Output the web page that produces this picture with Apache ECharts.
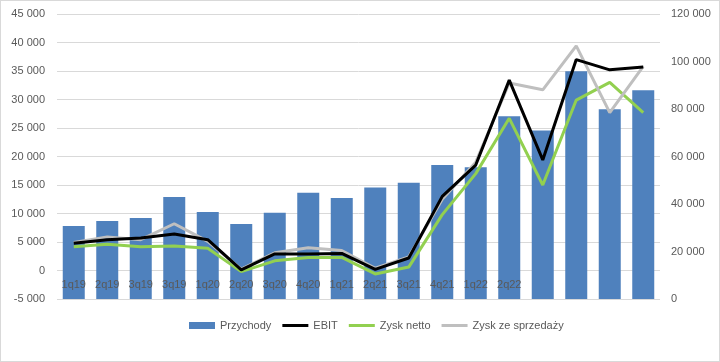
<!DOCTYPE html>
<html>
<head>
<meta charset="utf-8">
<script src="https://cdn.jsdelivr.net/npm/echarts@6/dist/echarts.min.js"></script>
<style>
html,body{margin:0;padding:0;background:#fff;}
#c{width:720px;height:362px;box-sizing:border-box;border:1px solid #d9d9d9;}
</style>
</head>
<body>
<div id="c"></div>
<script>
var categories = ['1q19','2q19','3q19','3q19','1q20','2q20','3q20','4q20','1q21','2q21','3q21','4q21','1q22','2q22','','','',''];
var przychody = [30700, 32800, 34100, 43000, 36600, 31600, 36300, 44700, 42500, 46900, 49000, 56400, 55500, 76900, 71000, 95900, 79900, 87900];
var ebit = [4800, 5400, 5700, 6400, 5400, 100, 2900, 2900, 3000, 200, 2200, 13000, 18500, 33400, 19400, 37000, 35200, 35700];
var zyskNetto = [4150, 4600, 4150, 4300, 3900, -200, 1700, 2300, 2300, -600, 600, 9800, 17000, 26700, 15000, 29900, 33000, 27700];
var zyskSprzedaz = [4900, 5900, 5400, 8200, 5100, 250, 3100, 4000, 3500, 400, 2400, 12500, 19000, 32900, 31700, 39400, 27700, 35800];

function fmt(v){
  var s = Math.abs(v).toString().replace(/\B(?=(\d{3})+(?!\d))/g, ' ');
  return (v < 0 ? '-' : '') + s;
}
var font = 'Liberation Sans, Arial, sans-serif';
var lineIcon = 'path://M0,0 M0,2 L26,2 L26,5 L0,5 Z M26,7';
var gridTop = 13, gridBottom = 62;
var gridH = 362 - gridTop - gridBottom;
var chart = echarts.init(document.getElementById('c'));
chart.setOption({
  animation: false,
  textStyle: {fontFamily: font},
  grid: {left: 56, right: 59, top: gridTop, bottom: gridBottom},
  legend: {
    left: 183, top: 314, itemWidth: 26, itemHeight: 7, itemGap: 11,
    textStyle: {color: '#595959', fontSize: 11, fontFamily: font},
    data: [
      {name: 'Przychody', icon: 'rect'},
      {name: 'EBIT', icon: lineIcon},
      {name: 'Zysk netto', icon: lineIcon},
      {name: 'Zysk ze sprzedaży', icon: lineIcon}
    ]
  },
  xAxis: {
    type: 'category', data: categories, z: 10,
    offset: -gridH / 10,
    axisLine: {show: false, onZero: false},
    axisTick: {show: false},
    axisLabel: {color: '#595959', fontSize: 11, margin: 9, interval: 0, fontFamily: font},
    splitLine: {show: false}
  },
  yAxis: [
    {type: 'value', min: -5000, max: 45000, interval: 5000,
     axisLine: {show: false}, axisTick: {show: false},
     axisLabel: {color: '#595959', fontSize: 11, margin: 12, formatter: fmt, fontFamily: font},
     splitLine: {lineStyle: {color: '#d9d9d9', width: 1}}},
    {type: 'value', min: 0, max: 120000, interval: 20000, position: 'right',
     axisLine: {show: false}, axisTick: {show: false},
     axisLabel: {color: '#595959', fontSize: 11, margin: 11, formatter: fmt, fontFamily: font},
     splitLine: {show: false}}
  ],
  series: [
    {name: 'Przychody', type: 'bar', yAxisIndex: 1, data: przychody, barWidth: 22,
     itemStyle: {color: '#4f81bd'}, z: 2},
    {name: 'EBIT', type: 'line', yAxisIndex: 0, data: ebit, symbol: 'none',
     lineStyle: {color: '#000000', width: 3}, itemStyle: {color: '#000000'}, z: 5},
    {name: 'Zysk netto', type: 'line', yAxisIndex: 0, data: zyskNetto, symbol: 'none',
     lineStyle: {color: '#92d050', width: 3}, itemStyle: {color: '#92d050'}, z: 4},
    {name: 'Zysk ze sprzedaży', type: 'line', yAxisIndex: 0, data: zyskSprzedaz, symbol: 'none',
     lineStyle: {color: '#bfbfbf', width: 3}, itemStyle: {color: '#bfbfbf'}, z: 4}
  ]
});
</script>
</body>
</html>
